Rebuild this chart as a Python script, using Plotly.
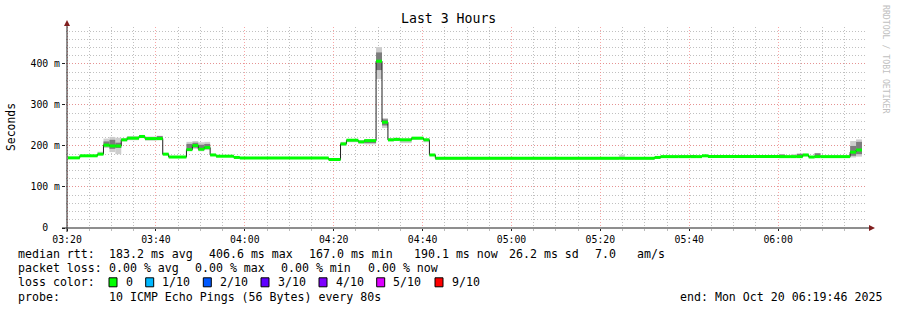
import plotly.graph_objects as go
from datetime import datetime

# ---------------- data ----------------
day = "2025-10-20 "
seg_start = [
    "03:20:12", "03:22:52", "03:26:52", "03:28:12", "03:29:32", "03:30:52",
    "03:32:12", "03:33:32", "03:36:12", "03:37:32", "03:40:12", "03:41:32",
    "03:42:52", "03:46:52", "03:48:12", "03:49:32", "03:50:52", "03:52:12",
    "03:53:32", "03:57:32", "03:58:52", "04:18:52", "04:21:32", "04:22:52",
    "04:25:32", "04:26:52", "04:29:32", "04:30:52", "04:32:12", "04:33:32",
    "04:34:52", "04:37:32", "04:40:12", "04:41:32", "04:42:52", "05:24:12",
    "05:25:32", "05:32:12", "05:33:32", "05:37:32", "05:40:12", "05:41:32",
    "05:42:52", "05:44:12", "06:00:12", "06:01:32", "06:02:52", "06:04:12",
    "06:05:32", "06:06:52", "06:08:12", "06:09:32", "06:16:12", "06:17:32",
]
end_time = "06:18:52"
median_ms = [
    171, 176, 180, 202, 200, 200,
    215, 219, 223, 218, 218, 180,
    173, 191, 201, 192, 196, 178,
    175, 172, 170.5, 167, 205, 214,
    210, 213, 406.6, 258, 215, 216,
    215, 219, 215, 178, 170, 170,
    170, 172, 174, 174, 174, 174,
    176, 174, 174, 174, 174, 174,
    178, 173, 174, 174, 185, 190.1,
]
smoke_lo = [
    169, 174, 178, 195, 185, 180,
    211, 214, 219, 213, 214, 178,
    171, 188, 193, 187, 190, 176,
    173, 170, 169, 165, 200, 209,
    206, 204, 363, 244, 211, 212,
    207, 215, 209, 176, 168, 168,
    168, 170, 172, 172, 172, 172,
    174, 172, 172, 172, 172, 172,
    175, 171, 172, 172, 172, 174,
]
smoke_hi = [
    173, 178, 186, 218, 222, 220,
    219, 224, 227, 223, 225, 183,
    176, 210, 212, 209, 210, 181,
    178, 174, 172, 169, 210, 217,
    214, 217, 441, 268, 219, 220,
    218, 222, 218, 180, 172, 179,
    172, 174, 176, 178, 178, 176,
    178, 176, 180, 176, 180, 181,
    181, 175, 183, 176, 212, 216,
]
core_lo = [
    None, None, None, 199, 193, 195,
    None, None, None, None, 216, None,
    None, 192, 196, 191, 193, None,
    None, None, None, None, None, None,
    None, 207, 385, 250, None, None,
    None, None, None, None, None, None,
    None, None, None, None, 174, None,
    None, None, 174, None, None, 174,
    None, None, 174, None, 176, 180,
]
core_hi = [
    None, None, None, 211, 215, 208,
    None, None, None, None, 224, None,
    None, 205, 208, 203, 205, None,
    None, None, None, None, None, None,
    None, 214, 428, 265, None, None,
    None, None, None, None, None, None,
    None, None, None, None, 178, None,
    None, None, 179, None, None, 181,
    None, None, 182, None, 200, 210,
]

y_ticks = [0, 100, 200, 300, 400]
y_ticktext = ["0\u00a0\u00a0", "100 m", "200 m", "300 m", "400 m"]

loss_labels = ["0", "1/10", "2/10", "3/10", "4/10", "5/10", "9/10"]
loss_colors = ["#00ff00", "#00b8ff", "#0059ff", "#5e00ff", "#7e00ff", "#dd00ff", "#ff0000"]

rtt_fields = ["183.2 ms avg", "406.6 ms max", "167.0 ms min", "190.1 ms now", "26.2 ms sd", "7.0", "am/s"]
loss_fields = ["0.00 % avg", "0.00 % max", "0.00 % min", "0.00 % now"]
probe_text = "10 ICMP Echo Pings (56 Bytes) every 80s"
end_text = "end: Mon Oct 20 06:19:46 2025"

# ---------------- geometry helpers (pixel -> paper) ----------------
W, H = 897, 310
L, R, T, B = 66, 31, 27, 82
PW, PH = W - L - R, H - T - B


def px(x):
    return (x - L) / PW


def py(y):
    return (H - B - y) / PH


FONT = "DejaVu Sans Mono"

times = [datetime.fromisoformat(day + s) for s in seg_start] + [datetime.fromisoformat(day + end_time)]
n = len(seg_start)
mids = [times[i] + (times[i + 1] - times[i]) / 2 for i in range(n)]
widths = [(times[i + 1] - times[i]).total_seconds() * 1000 for i in range(n)]

fig = go.Figure()

# smoke (light)
fig.add_trace(go.Bar(
    x=mids, base=smoke_lo, y=[h - l for l, h in zip(smoke_lo, smoke_hi)], width=widths,
    marker=dict(color="#cdcdcd", line=dict(width=0)), hoverinfo="skip", showlegend=False))
# smoke (dark core)
fig.add_trace(go.Bar(
    x=mids, base=[c if c is not None else 0 for c in core_lo],
    y=[(h - l) if l is not None else None for l, h in zip(core_lo, core_hi)], width=widths,
    marker=dict(color="#7c7c7c", line=dict(width=0)), hoverinfo="skip", showlegend=False))

# black median step line
fig.add_trace(go.Scatter(
    x=times, y=median_ms + [median_ms[-1]], mode="lines",
    line=dict(shape="hv", color="#202020", width=1), hoverinfo="skip", showlegend=False))

# green loss-coloured median band
gx, gy = [], []
for i in range(n):
    gx += [times[i], times[i + 1], None]
    gy += [median_ms[i], median_ms[i], None]
fig.add_trace(go.Scatter(
    x=gx, y=gy, mode="lines", line=dict(color=loss_colors[0], width=3),
    hoverinfo="skip", showlegend=False, connectgaps=False))

grid_minor = "rgba(140,140,140,0.55)"
grid_major = "rgba(245,128,128,0.7)"

fig.update_layout(
    width=W, height=H, margin=dict(l=L, r=R, t=T, b=B),
    paper_bgcolor="white", plot_bgcolor="white", barmode="overlay",
    font=dict(family=FONT, size=10, color="black"),
    showlegend=False,
    xaxis=dict(
        type="date", range=[day + "03:19:46", day + "06:19:46"],
        tick0=day + "03:20:00", dtick=20 * 60 * 1000, tickformat="%H:%M",
        showgrid=True, gridcolor=grid_major, griddash="1px,2px", gridwidth=1,
        ticks="outside", ticklen=2, tickcolor="#1f1f1f",
        tickfont=dict(family=FONT, size=9.8),
        minor=dict(dtick=5 * 60 * 1000, showgrid=True, gridcolor=grid_minor,
                   griddash="1px,2px", ticks="outside", ticklen=2, tickcolor="#bbbbbb"),
        zeroline=False, showline=False, fixedrange=True,
    ),
    yaxis=dict(
        range=[0, 490], tickvals=y_ticks, ticktext=y_ticktext,
        showgrid=True, gridcolor=grid_major, griddash="1px,2px", gridwidth=1,
        ticks="outside", ticklen=3, tickcolor="#1f1f1f",
        tickfont=dict(family=FONT, size=9.8),
        minor=dict(dtick=20, showgrid=True, gridcolor=grid_minor, griddash="1px,2px"),
        zeroline=False, showline=False, fixedrange=True,
    ),
)

shapes = []
# axes lines
shapes.append(dict(type="line", xref="paper", yref="paper", x0=px(62), x1=px(869), y0=py(228), y1=py(228),
                   line=dict(color="#1f1f1f", width=1)))
shapes.append(dict(type="line", xref="paper", yref="paper", x0=px(67), x1=px(67), y0=py(232), y1=py(24),
                   line=dict(color="#1f1f1f", width=1)))
# arrows
shapes.append(dict(type="path", xref="paper", yref="paper",
                   path=f"M {px(64)} {py(26)} L {px(70)} {py(26)} L {px(67)} {py(20)} Z",
                   fillcolor="#801e1e", line=dict(width=0)))
shapes.append(dict(type="path", xref="paper", yref="paper",
                   path=f"M {px(869)} {py(225)} L {px(869)} {py(231)} L {px(875)} {py(228)} Z",
                   fillcolor="#801e1e", line=dict(width=0)))

annotations = []


def txt(x, y, s, size=11.6, color="black", angle=0, anchor="left"):
    annotations.append(dict(x=px(x), y=py(y), xref="paper", yref="paper", text=s, showarrow=False,
                            xanchor=anchor, yanchor="middle", textangle=angle,
                            font=dict(family=FONT, size=size, color=color)))


txt(448, 19, "Last 3 Hours", size=13.2, anchor="center")
txt(11, 127, "Seconds", size=11.4, angle=-90, anchor="center")
txt(886, 60, "RRDTOOL / TOBI OETIKER", size=8.2, color="#c0c0c0", angle=90, anchor="center")

y1, y2, y3, y4 = 254.3, 268.3, 282.3, 296.5
txt(16, y1, "median rtt:")
for xs, s in zip([107.3, 207.3, 307.3, 412.0, 507.3, 593.3, 635.0], rtt_fields):
    txt(xs, y1, s)
txt(16, y2, "packet loss:")
for xs, s in zip([107.3, 193.3, 279.3, 365.7], loss_fields):
    txt(xs, y2, s)
txt(16, y3, "loss color:")
box_x = [109, 145.7, 203.3, 261, 319, 376.7, 435]
for bx, lab, col in zip(box_x, loss_labels, loss_colors):
    shapes.append(dict(type="rect", xref="paper", yref="paper", x0=px(bx), x1=px(bx + 8),
                       y0=py(y3 + 4.5), y1=py(y3 - 4.5), fillcolor=col, line=dict(color="black", width=1)))
    txt(bx + 14.5, y3, lab)
txt(16, y4, "probe:")
txt(107.3, y4, probe_text)
txt(678.3, y4, end_text)

fig.update_layout(shapes=shapes, annotations=annotations)
fig.write_html("out.html")
